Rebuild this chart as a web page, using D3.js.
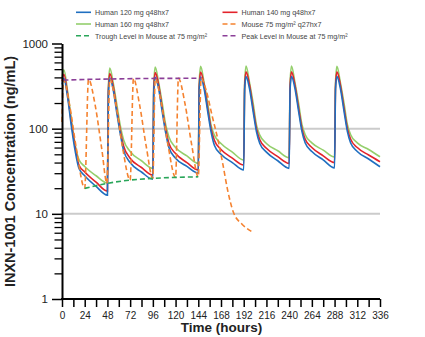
<!DOCTYPE html>
<html>
<head>
<meta charset="utf-8">
<script src="https://cdn.jsdelivr.net/npm/d3@7"></script>
<style>
  html, body { margin: 0; padding: 0; background: #fff; }
  svg { display: block; font-family: "Liberation Sans", Arial, sans-serif; }
</style>
</head>
<body>
<div id="chart"></div>
<script>
// time (h), concentration (ng/mL)
const human120 = [
  [0,330],[2,390],[6,230],[10,105],[14,54],[18,34],[24,28],[36,21],[48,16.6],
  [49,250],[50.5,395],[54,290],[58,150],[61.5,88],[65,56],[72,40],[84,31],[96,25.5],
  [97,280],[98.5,400],[102,300],[106,155],[109.5,90],[113,60],[120,45],[132,36],[144,30],
  [145,290],[146.5,405],[150,300],[154,158],[157.5,92],[161,64],[168,50],[180,40],[192,32.7],
  [193,290],[194.5,408],[198,300],[202,158],[205.5,92],[209,67],[216,53],[228,42],[240,34.2],
  [241,290],[242.5,410],[246,302],[250,160],[253.5,93],[257,68],[264,54],[276,43],[288,34.6],
  [289,290],[290.5,410],[294,302],[298,160],[301.5,93],[305,68],[312,54],[324,44],[336,35.7]
];
const human140 = [
  [0,360],[2,435],[6,250],[10,115],[14,60],[18,37],[24,31],[36,23.5],[48,18.5],
  [49,280],[50.5,445],[54,320],[58,165],[61.5,97],[65,63],[72,45],[84,35],[96,28.5],
  [97,310],[98.5,455],[102,330],[106,170],[109.5,100],[113,67],[120,51],[132,40],[144,32.7],
  [145,320],[146.5,462],[150,330],[154,173],[157.5,100],[161,73],[168,57],[180,45],[192,37.4],
  [193,320],[194.5,465],[198,332],[202,173],[205.5,100],[209,74],[216,59],[228,47],[240,39.1],
  [241,320],[242.5,466],[246,332],[250,174],[253.5,101],[257,75],[264,60],[276,48],[288,40],
  [289,320],[290.5,466],[294,332],[298,174],[301.5,101],[305,75],[312,60],[324,49],[336,40.9]
];
const human160 = [
  [0,390],[2,490],[6,270],[10,126],[14,64],[18,43],[24,36],[36,28],[48,23],
  [49,310],[50.5,515],[54,350],[58,190],[61.5,110],[65,74],[72,54],[84,42],[96,34.2],
  [97,340],[98.5,530],[102,355],[106,195],[109.5,112],[113,80],[120,60],[132,48],[144,39.1],
  [145,350],[146.5,540],[150,355],[154,198],[157.5,110],[161,84],[168,67],[180,53],[192,42.8],
  [193,350],[194.5,545],[198,355],[202,198],[205.5,110],[209,84],[216,67],[228,55],[240,45.5],
  [241,350],[242.5,545],[246,355],[250,198],[253.5,112],[257,85],[264,68],[276,56],[288,46.4],
  [289,350],[290.5,540],[294,355],[298,198],[301.5,112],[305,85],[312,68],[324,57],[336,46.8]
];
const mouse75 = [
  [0,120],[1.5,372],[8,190],[15,60],[24,20],
  [28,379],[35,190],[42,58],[47.5,22.8],
  [50.5,383],[57,190],[64,60],[72,24.9],
  [75.5,387],[82,190],[89,62],[96,26.1],
  [98.5,389],[105,195],[112,64],[120,26.8],
  [123,390],[130,195],[137,65],[144,27.2],
  [147,391],[152,290],[158.8,139],[165,72],[170,38],[175,19],[181,10.5],[190,7.6],[200.4,6.2]
];
const troughLevel = [[24,19.9],[48,22.8],[72,24.9],[96,26.1],[120,26.8],[144,27.2]];
const peakLevel = [[1.5,372],[28,379],[50.5,383],[75.5,387],[98.5,389],[123,390],[147,391]];

const xTicks = d3.range(0, 337, 12);
const yMajor = [1, 10, 100, 1000];
const yMinor = [2,3,4,5,6,7,8,9,20,30,40,50,60,70,80,90,200,300,400,500,600,700,800,900];
const gridValues = [10, 100];

const series = [
  { name: "Human 120 mg q48hx7", data: human120, color: "#1f6fc0", dash: null, col: 0, row: 0 },
  { name: "Human 140 mg q48hx7", data: human140, color: "#e3232b", dash: null, col: 1, row: 0 },
  { name: "Human 160 mg q48hx7", data: human160, color: "#94cf6c", dash: null, col: 0, row: 1 },
  { name: "Mouse 75 mg/m\u00b2 q27hx7", data: mouse75, color: "#f5822f", dash: "5,3", col: 1, row: 1 },
  { name: "Trough Level in Mouse at 75 mg/m\u00b2", data: troughLevel, color: "#2aa65a", dash: "5,3", col: 0, row: 2 },
  { name: "Peak Level in Mouse at 75 mg/m\u00b2", data: peakLevel, color: "#8b3f98", dash: "5,3", col: 1, row: 2 }
];
const legendWidths = [74, 74, 74, 80, 112, 106];
const drawOrder = [2, 1, 0, 3, 4, 5];

const W = 425, H = 337;
const margin = { top: 43.5, right: 45, bottom: 38, left: 62 };

const svg = d3.select("#chart").append("svg")
  .attr("width", W).attr("height", H);

const x = d3.scaleLinear().domain([0, 336]).range([margin.left, W - margin.right]);
const y = d3.scaleLog().domain([1, 1000]).range([H - margin.bottom, margin.top]);

// grid lines
svg.append("g").selectAll("line").data(gridValues).join("line")
  .attr("x1", x(0)).attr("x2", x(336))
  .attr("y1", d => y(d)).attr("y2", d => y(d))
  .attr("stroke", "#cbcbcb").attr("stroke-width", 2);

// lines
const line = d3.line()
  .x(d => x(d[0])).y(d => y(d[1]))
  .curve(d3.curveMonotoneX);

drawOrder.forEach(i => {
  const s = series[i];
  svg.append("path")
    .datum(s.data)
    .attr("d", line)
    .attr("fill", "none")
    .attr("stroke", s.color)
    .attr("stroke-width", 1.6)
    .attr("stroke-dasharray", s.dash);
});

// axes
const xAxis = d3.axisBottom(x).tickValues(xTicks).tickSize(8).tickSizeOuter(0)
  .tickPadding(5).tickFormat(d => d % 24 === 0 ? d : "");
const xg = svg.append("g").attr("transform", `translate(0,${y(1)})`).call(xAxis);
xg.select(".domain").attr("stroke-width", 2).attr("d", `M${x(0) - 1},0H${x(336)}`);
xg.selectAll(".tick line").attr("stroke-width", 1.5);
xg.selectAll(".tick text").attr("font-size", 10).attr("fill", "#222")
  .attr("font-family", "Liberation Sans, Arial, sans-serif");

const yMinorAxis = d3.axisLeft(y).tickValues(yMinor).tickSize(7.5).tickSizeOuter(0).tickFormat("");
const ymg = svg.append("g").attr("transform", `translate(${x(0)},0)`).call(yMinorAxis);
ymg.select(".domain").remove();
ymg.selectAll(".tick line").attr("stroke-width", 1.3);

const yAxis = d3.axisLeft(y).tickValues(yMajor).tickSize(10).tickSizeOuter(0)
  .tickPadding(4).tickFormat(d3.format("d"));
const yg = svg.append("g").attr("transform", `translate(${x(0)},0)`).call(yAxis);
yg.select(".domain").attr("stroke-width", 2);
yg.selectAll(".tick line").attr("stroke-width", 1.5);
yg.selectAll(".tick text").attr("font-size", 11.5).attr("fill", "#222")
  .attr("font-family", "Liberation Sans, Arial, sans-serif");

// axis titles
svg.append("text")
  .attr("x", 221.5).attr("y", 332)
  .attr("text-anchor", "middle")
  .attr("font-size", 13.5).attr("font-weight", "bold").attr("fill", "#222")
  .text("Time (hours)");

svg.append("text")
  .attr("transform", "translate(15,171.5) rotate(-90)")
  .attr("text-anchor", "middle")
  .attr("font-size", 14.5).attr("font-weight", "bold").attr("fill", "#222")
  .text("INXN-1001 Concentration (ng/mL)");

// legend
const legX = [76, 222.5], legY = [12.3, 24, 35.7];
const leg = svg.append("g");
series.forEach((s, i) => {
  const lx = legX[s.col], ly = legY[s.row];
  leg.append("line")
    .attr("x1", lx).attr("x2", lx + 15)
    .attr("y1", ly).attr("y2", ly)
    .attr("stroke", s.color).attr("stroke-width", 1.6)
    .attr("stroke-dasharray", s.dash ? "5,3" : null);
  leg.append("text")
    .attr("x", lx + 19).attr("y", ly + 2.8)
    .attr("font-size", 8)
    .attr("font-family", "Liberation Sans Narrow, Liberation Sans, Arial, sans-serif")
    .attr("fill", "#444")
    .attr("textLength", legendWidths[i])
    .attr("lengthAdjust", "spacingAndGlyphs")
    .text(s.name);
});
</script>
</body>
</html>
